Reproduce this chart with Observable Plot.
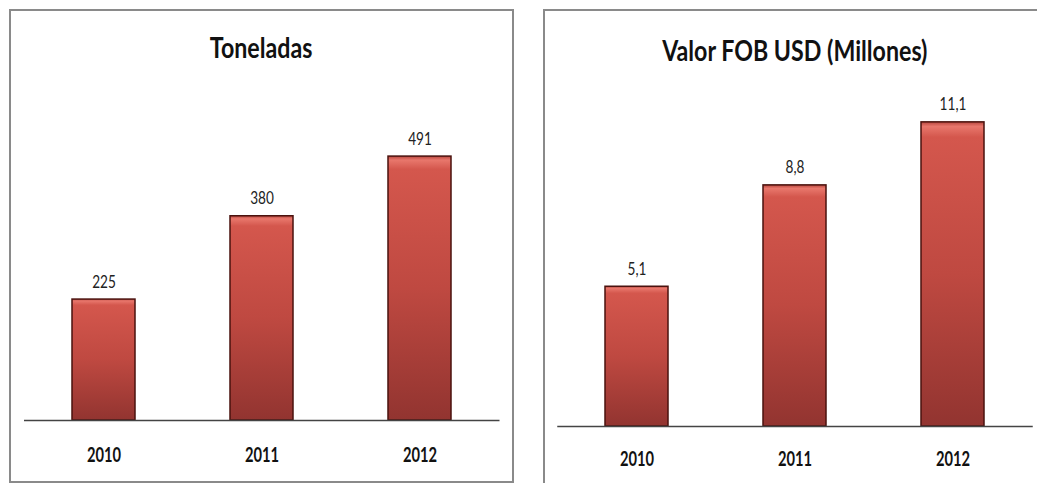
<!DOCTYPE html>
<html>
<head>
<meta charset="utf-8">
<script src="https://cdn.jsdelivr.net/npm/d3@7"></script>
<script src="https://cdn.jsdelivr.net/npm/@observablehq/plot@0.6"></script>
<style>
  html, body { margin: 0; padding: 0; background: #fff; overflow: hidden; }
  body { width: 1037px; height: 483px; position: relative; font-family: Lato, "Open Sans", sans-serif; }
  .panel { position: absolute; box-sizing: border-box; }
  #p1 { left: 9px; top: 9px; width: 505px; height: 474px; border: 2px solid #8a8a8a; }
  #p2 { left: 543px; top: 9px; width: 500px; height: 480px; border-left: 2px solid #8a8a8a; border-top: 2px solid #8a8a8a; }
  .title { position: absolute; text-align: center; font-size: 29px; font-weight: bold; line-height: 29px; color: #111; white-space: nowrap; }
  .title span { display: inline-block; transform: scaleX(0.8); transform-origin: center; }
  .chart { position: absolute; }
</style>
</head>
<body>
<div class="panel" id="p1"></div>
<div class="panel" id="p2"></div>
<div class="title" style="left:10px; top:32px; width:503px;"><span>Toneladas</span></div>
<div class="title" style="left:544px; top:35px; width:502px;"><span>Valor FOB USD (Millones)</span></div>
<div class="chart" id="c1" style="left:10px; top:10px;"></div>
<div class="chart" id="c2" style="left:544px; top:10px;"></div>
<script>
const years = ["2010", "2011", "2012"];
const toneladas = [225, 380, 491];
const valorFob = [5.1, 8.8, 11.1];

const FONT = 'Lato, "Open Sans", sans-serif';

function addGradient(svg, id) {
  const defs = d3.select(svg).insert("defs", ":first-child");
  const g = defs.append("linearGradient").attr("id", id)
    .attr("x1", 0).attr("y1", 0).attr("x2", 0).attr("y2", 1);
  g.append("stop").attr("offset", "0%").attr("stop-color", "#b8463e");
  g.append("stop").attr("offset", "1.5%").attr("stop-color", "#e8776c");
  g.append("stop").attr("offset", "5%").attr("stop-color", "#d4574d");
  g.append("stop").attr("offset", "50%").attr("stop-color", "#bf4941");
  g.append("stop").attr("offset", "100%").attr("stop-color", "#923430");
}

function condense(svg, selector, k) {
  svg.querySelectorAll(selector).forEach(t => {
    const L = t.getComputedTextLength();
    if (L > 0) {
      t.setAttribute("textLength", (L * k).toFixed(2));
      t.setAttribute("lengthAdjust", "spacingAndGlyphs");
    }
  });
}

function makeChart(host, values, fmt, opts) {
  const data = years.map((y, i) => ({year: y, value: values[i]}));
  const svg = Plot.plot({
    width: opts.width,
    height: opts.height,
    marginLeft: opts.ml,
    marginRight: opts.mr,
    marginTop: opts.mt,
    marginBottom: opts.mb,
    style: {fontFamily: FONT, background: "transparent", color: "#111"},
    x: {domain: years, paddingInner: 0.6, paddingOuter: 0.3, label: null},
    y: {domain: opts.ydomain, axis: null},
    marks: [
      Plot.barY(data, {x: "year", y: "value", fill: `url(#${opts.grad})`, stroke: "#4a120e", strokeWidth: 1.5}),
      Plot.ruleY([0], {stroke: "#444", strokeWidth: 1.5}),
      Plot.text(data, {x: "year", y: "value", text: d => fmt(d.value), dy: -12, fontSize: 17, fill: "#222", lineAnchor: "bottom", className: "vlabel"}),
      Plot.axisX({tickSize: 0, tickPadding: opts.tp, fontSize: 21, fontWeight: "bold", label: null, fill: "#111", className: "ylabel"})
    ]
  });
  addGradient(svg, opts.grad);
  host.append(svg);
  condense(svg, ".vlabel text", 0.8);
  condense(svg, ".ylabel text", 0.7);
  return svg;
}

makeChart(document.getElementById("c1"), toneladas, v => String(v), {
  width: 503, height: 472, ml: 14, mr: 13.5, mt: 87.5, mb: 62, ydomain: [0, 600], tp: 27, grad: "grad1"
});
makeChart(document.getElementById("c2"), valorFob, v => v.toFixed(1).replace(".", ","), {
  width: 493, height: 473, ml: 13.25, mr: 4.25, mt: 87.2, mb: 57, ydomain: [0, 12], tp: 24.5, grad: "grad2"
});
</script>
</body>
</html>
